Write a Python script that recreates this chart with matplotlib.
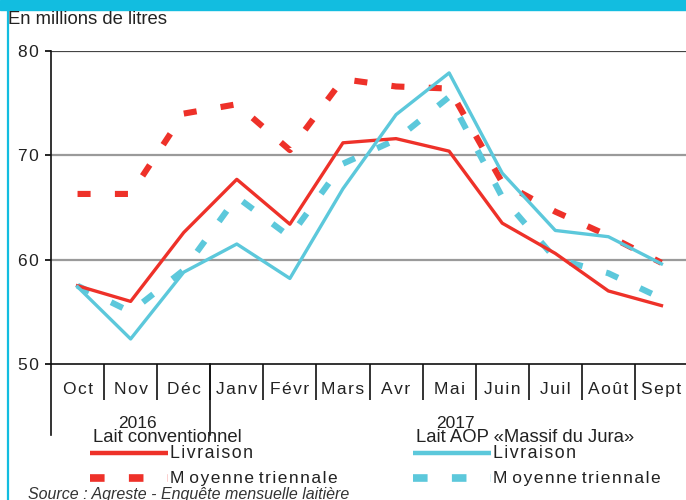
import matplotlib
matplotlib.use('Agg')
import matplotlib.pyplot as plt
import matplotlib.transforms as mtransforms
from matplotlib.lines import Line2D

plt.rcParams['font.family'] = ['Liberation Sans', 'DejaVu Sans']
plt.rcParams['lines.scale_dashes'] = False

# data (millions de litres)
months = ['Oct', 'Nov', 'Déc', 'Janv', 'Févr', 'Mars', 'Avr', 'Mai', 'Juin', 'Juil', 'Août', 'Sept']
conv_livraison = [57.5, 56.0, 62.6, 67.7, 63.4, 71.2, 71.6, 70.4, 63.5, 60.6, 57.0, 55.6]
conv_moyenne = [66.3, 66.3, 74.0, 74.9, 70.5, 77.3, 76.6, 76.4, 67.4, 64.6, 62.3, 59.7]
aop_livraison = [57.4, 52.4, 58.8, 61.5, 58.2, 66.8, 73.9, 77.9, 68.3, 62.8, 62.2, 59.6]
aop_moyenne = [57.5, 55.0, 59.0, 66.0, 62.2, 69.2, 71.5, 75.6, 66.0, 60.1, 58.7, 56.3]
years = ['2016', '2017']
yticks = [50, 60, 70, 80]

RED = '#EE3129'
CYAN = '#5CC8DB'
BAND = '#12BDE0'
TXT = '#222222'

W, H = 686, 500


def px(x, y):
    return x / W, 1 - y / H


def spaced(s):
    return '\u200a'.join(s)


fig = plt.figure(figsize=(W / 100, H / 100), dpi=100)

# frame decorations
fig.patches.append(plt.Rectangle((0, 1 - 10 / H), 1, 10 / H, transform=fig.transFigure,
                                 color=BAND, zorder=0))
fig.lines.append(Line2D([8 / W, 8 / W], [0, 1], transform=fig.transFigure, color=BAND, lw=1.6))

ax = fig.add_axes([51 / W, 1 - 364 / H, (688 - 51) / W, (364 - 51) / H])
x = [i + 0.5 for i in range(len(months))]

ax.plot(x, conv_moyenne, color=RED, lw=4.4, dashes=(9.4, 17.5), dash_capstyle='butt')
ax.plot(x, aop_moyenne, color=CYAN, lw=4.4, dashes=(9.4, 17.5), dash_capstyle='butt')
ax.plot(x, conv_livraison, color=RED, lw=2.4)
ax.plot(x, aop_livraison, color=CYAN, lw=2.4)

ax.set_xlim(0, 12)
ax.set_ylim(50, 80)
for v in [60, 70]:
    ax.axhline(v, color='#9a9a9a', lw=1.6, zorder=0)
ax.axhline(80, color='#444444', lw=1.6, zorder=0)

for s in ['top', 'right']:
    ax.spines[s].set_visible(False)
ax.spines['left'].set_color('#111111')
ax.spines['bottom'].set_color('#111111')
ax.spines['left'].set_linewidth(1.2)
ax.spines['bottom'].set_linewidth(1.2)

ax.set_yticks(yticks)
ax.set_yticklabels([spaced(str(v)) for v in yticks], fontsize=12.5, color=TXT)
ax.tick_params(axis='y', length=4.5, width=1.2, pad=4)

ax.set_xticks(x)
ax.set_xticklabels([spaced(m) for m in months], fontsize=12.5, color=TXT)
ax.tick_params(axis='x', which='major', length=0, pad=13)
ax.set_xticks(range(1, 12), minor=True)
ax.tick_params(axis='x', which='minor', length=26, width=1.2, color='#111111')

# year separators
trans = mtransforms.blended_transform_factory(ax.transData, ax.transAxes)
for xv in [0, 3]:
    ax.add_line(Line2D([xv, xv], [0, -71 / 313], transform=trans, color='#111111', lw=1.2, clip_on=False))

fig.text(*px(137, 423), years[0], ha='center', va='center', fontsize=12.5, color=TXT)
fig.text(*px(455, 423), years[1], ha='center', va='center', fontsize=12.5, color=TXT)

fig.text(*px(8, 19), 'En millions de litres', ha='left', va='center', fontsize=13.3, color=TXT)

# legend
legend_groups = [
    (90, 'Lait conventionnel', RED),
    (413, 'Lait AOP «Massif du Jura»', CYAN),
]
for x0, title, col in legend_groups:
    fig.text(*px(x0 + 3, 437), title, ha='left', va='center', fontsize=13.3, color=TXT)
    fig.lines.append(Line2D([x0 / W, (x0 + 78) / W], [1 - 453 / H] * 2, transform=fig.transFigure,
                            color=col, lw=3.2, solid_capstyle='butt'))
    fig.lines.append(Line2D([x0 / W, (x0 + 78) / W], [1 - 478 / H] * 2, transform=fig.transFigure,
                            color=col, lw=5.5, dashes=(10.5, 17.5), dash_capstyle='butt'))
    fig.text(*px(x0 + 80, 453), spaced('Livraison'), ha='left', va='center', fontsize=12.8, color=TXT)
    fig.text(*px(x0 + 80, 479), 'M ' + spaced('oyenne') + ' ' + spaced('triennale'),
             ha='left', va='center', fontsize=12.5, color=TXT)

fig.text(*px(28, 494), 'Source : Agreste - Enquête mensuelle laitière', ha='left', va='center',
         fontsize=11.5, style='italic', color='#333333')

fig.savefig('out.png', dpi=100)
